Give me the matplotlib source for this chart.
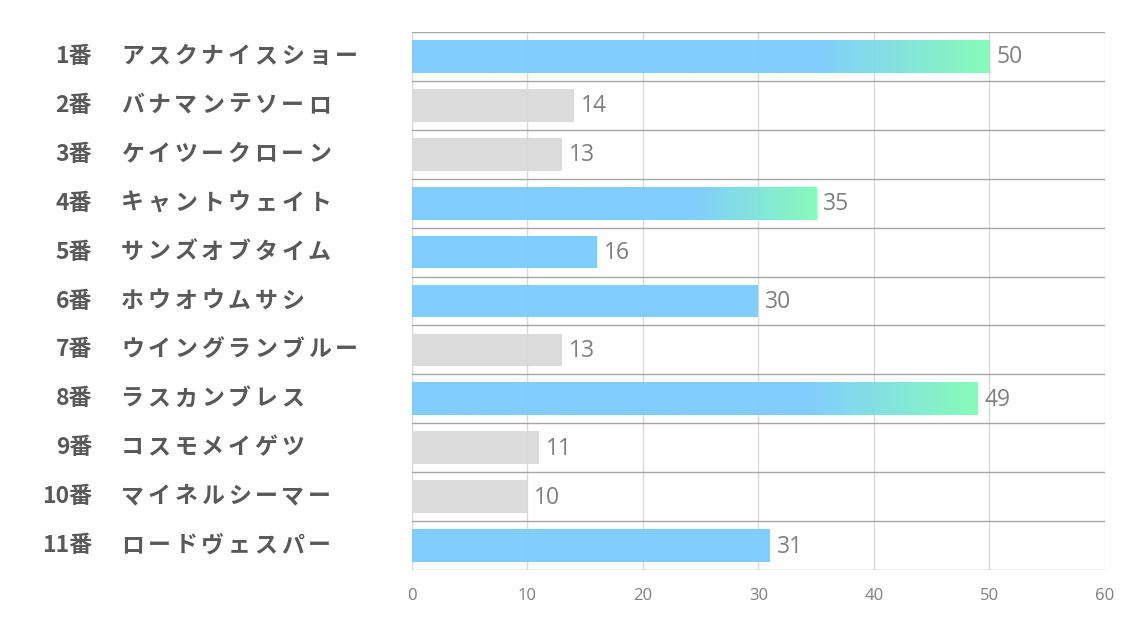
import numpy as np
from matplotlib import pyplot as plt
from matplotlib import font_manager
from matplotlib.colors import LinearSegmentedColormap

# chart data
numbers = ['1番', '2番', '3番', '4番', '5番', '6番', '7番', '8番', '9番', '10番', '11番']
names = ['アスクナイスショー', 'バナマンテソーロ', 'ケイツークローン', 'キャントウェイト',
         'サンズオブタイム', 'ホウオウムサシ', 'ウイングランブルー', 'ラスカンブレス',
         'コスモメイゲツ', 'マイネルシーマー', 'ロードヴェスパー']
scores = [50, 14, 13, 35, 16, 30, 13, 49, 11, 10, 31]

plt.rcParams['font.family'] = ['Noto Sans CJK JP', 'DejaVu Sans']

# narrow font for the numbers if it is there
installed = {f.name for f in font_manager.fontManager.ttflist}
NUM_FONT = ['Liberation Sans Narrow'] if 'Liberation Sans Narrow' in installed else ['Open Sans']

BLUE = '#7ACBFE'
GREEN = '#7FFCB5'
GRAY = '#D9D9D9'
TEXT = '#595959'

fig = plt.figure(figsize=(11.34, 6.23), dpi=100)
ax = fig.add_axes([0.3633, 0.0851, 0.6111, 0.8635])

n = len(scores)

# gradient colormap: flat blue, then fade to green over the last 30%
grad_cmap = LinearSegmentedColormap.from_list(
    'bg', [(0.0, BLUE), (0.70, BLUE), (1.0, GREEN)])
grad = np.linspace(0, 1, 256).reshape(1, -1)

# top three get the gradient, weak ones are gray
top3 = sorted(scores, reverse=True)[:3]
bar_h = 0.67
for i, v in enumerate(scores):
    if v in top3:
        ax.imshow(grad, cmap=grad_cmap, aspect='auto', alpha=0.95,
                  extent=(0, v, i + bar_h / 2, i - bar_h / 2), zorder=2)
    else:
        color = GRAY if v < 15 else BLUE
        ax.barh(i, v, height=bar_h, color=color, alpha=0.95, zorder=2)
    ax.text(v + 0.6, i + 0.02, str(v), va='center', ha='left',
            fontsize=16.5, color='#7F7F7F', family=NUM_FONT)

ax.set_xlim(0, 60)
ax.set_ylim(n - 0.5, -0.5)

# grid: light vertical lines, darker row separators
for x in range(0, 61, 10):
    ax.axvline(x, color='#D9D9D9', lw=1, zorder=1)
for k in range(n + 1):
    ax.axhline(k - 0.5, color='#A6A6A6', lw=1, zorder=3)

for s in ax.spines.values():
    s.set_visible(False)
ax.set_xticks(range(0, 61, 10))
ax.tick_params(axis='x', length=0, pad=13, labelsize=12, labelcolor='#7F7F7F')
for lab in ax.get_xticklabels():
    lab.set_family(NUM_FONT)
ax.set_yticks([])

# left-hand labels: number right-aligned, name spaced out char by char
fig.canvas.draw()
W = fig.bbox.width
pitch = 26.7
for i in range(n):
    y = ax.transData.transform((0, i))[1]
    yf = y / fig.bbox.height
    fig.text(92 / W, yf, numbers[i], ha='right', va='center',
             fontsize=16.5, fontweight='bold', color=TEXT)
    for k, ch in enumerate(names[i]):
        fig.text((121 + k * pitch) / W, yf, ch, ha='left', va='center',
                 fontsize=16.5, fontweight='bold', color=TEXT)

fig.savefig('out.png', dpi=100)
